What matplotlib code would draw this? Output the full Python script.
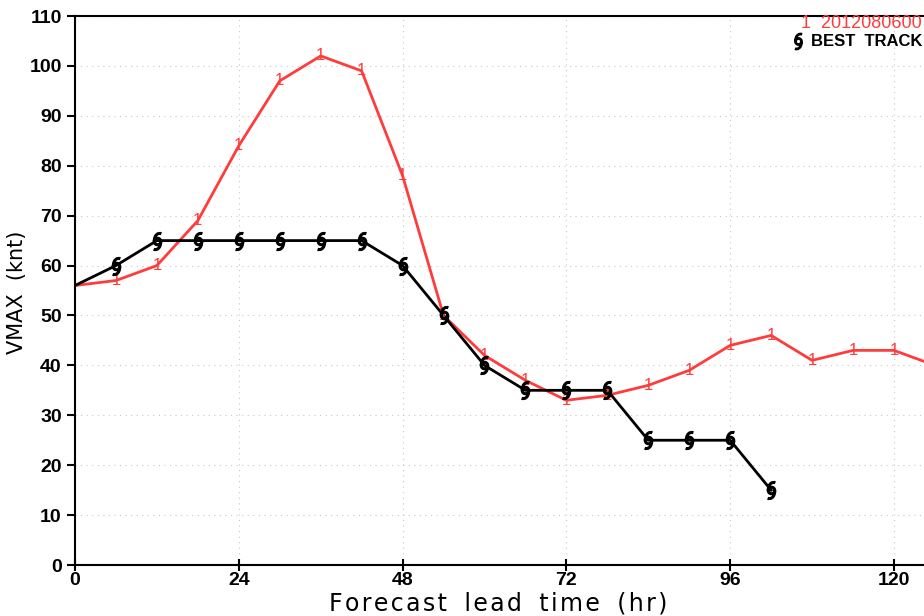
import matplotlib
matplotlib.use("Agg")
import matplotlib.pyplot as plt
from matplotlib.path import Path
import numpy as np

hours = [0, 6, 12, 18, 24, 30, 36, 42, 48, 54, 60, 66, 72, 78, 84, 90, 96, 102, 108, 114, 120, 126]
fcst_vmax = [56, 57, 60, 69, 84, 97, 102, 99, 78, 50, 42, 37, 33, 34, 36, 39, 44, 46, 41, 43, 43, 40]
bt_hours = [0, 6, 12, 18, 24, 30, 36, 42, 48, 54, 60, 66, 72, 78, 84, 90, 96, 102]
bt_vmax = [56, 60, 65, 65, 65, 65, 65, 65, 60, 50, 40, 35, 35, 35, 25, 25, 25, 15]
xticks = [0, 24, 48, 72, 96, 120]
yticks = list(range(0, 111, 10))

RED = "#ff3c3c"
plt.rcParams['font.family'] = ['Liberation Sans', 'DejaVu Sans']

# tropical cyclone symbol marker path
th = np.linspace(0, 2*np.pi, 25)
r = 0.38
verts = [(r*np.cos(t), r*np.sin(t)) for t in th]
codes = [Path.MOVETO] + [Path.LINETO]*(len(th)-1)
verts += [(-r, 0), (-r, 0.85), (0.15, 1.05), (0.45, 0.9)]
codes += [Path.MOVETO, Path.CURVE4, Path.CURVE4, Path.CURVE4]
verts += [(r, 0), (r, -0.85), (-0.15, -1.05), (-0.45, -0.9)]
codes += [Path.MOVETO, Path.CURVE4, Path.CURVE4, Path.CURVE4]
hurr = Path(verts, codes)

fig = plt.figure(figsize=(9.24, 6.16), dpi=100)
ax = fig.add_axes([75/924, 1-565/616, (924-75)/924, (565-16)/616])
ax.set_xlim(0, 124.4)
ax.set_ylim(0, 110)
ax.set_xticks(xticks)
ax.set_yticks(yticks)
ax.grid(True, linestyle=(0, (1, 4)), color="#c8c8c8", linewidth=0.8)
ax.set_axisbelow(True)
ax.spines["right"].set_visible(False)
for s in ["left", "bottom", "top"]:
    ax.spines[s].set_linewidth(1.5)
ax.tick_params(axis="both", labelsize=14, width=1.5, length=6, direction="out")
ax.tick_params(axis="x", direction="inout", length=8, pad=1)
for lab in ax.get_xticklabels() + ax.get_yticklabels():
    lab.set_fontweight("bold")

ax.plot(hours, fcst_vmax, color=RED, lw=2, zorder=3)
ax.plot(bt_hours, bt_vmax, color="black", lw=2, zorder=4)
for h, v in zip(hours[1:], fcst_vmax[1:]):
    if h <= 124:
        ax.text(h, v, "1", color=RED, fontsize=12, ha="center", va="center", zorder=5)
ax.plot(bt_hours[1:], bt_vmax[1:], linestyle="none", marker=hurr, markersize=13,
        markerfacecolor="none", markeredgecolor="black", markeredgewidth=2.2, zorder=6)

hs = "\u200a"
xlab = hs.join("Forecast lead time (hr)").replace(" " + hs, "  ")
fig.text(498/924, 1-603/616, xlab, fontsize=17,
         family="DejaVu Sans", ha="center", va="center")
fig.text(17/924, 1-292/616, "VMAX  (knt)", fontsize=15, family="DejaVu Sans",
         rotation=90, ha="center", va="center")

fig.text(922/924, 1-23/616, "1  2012080600", color=RED, fontsize=13, ha="right", va="center")
fig.text(922/924, 1-42/616, "BEST  TRACK", color="black", fontsize=12, fontweight="bold",
         ha="right", va="center")
fig.add_artist(matplotlib.lines.Line2D([798/924], [1-41/616], marker=hurr, markersize=12,
               markerfacecolor="none", markeredgecolor="black", markeredgewidth=2,
               linestyle="none", transform=fig.transFigure))

fig.savefig("out.png", dpi=100)
